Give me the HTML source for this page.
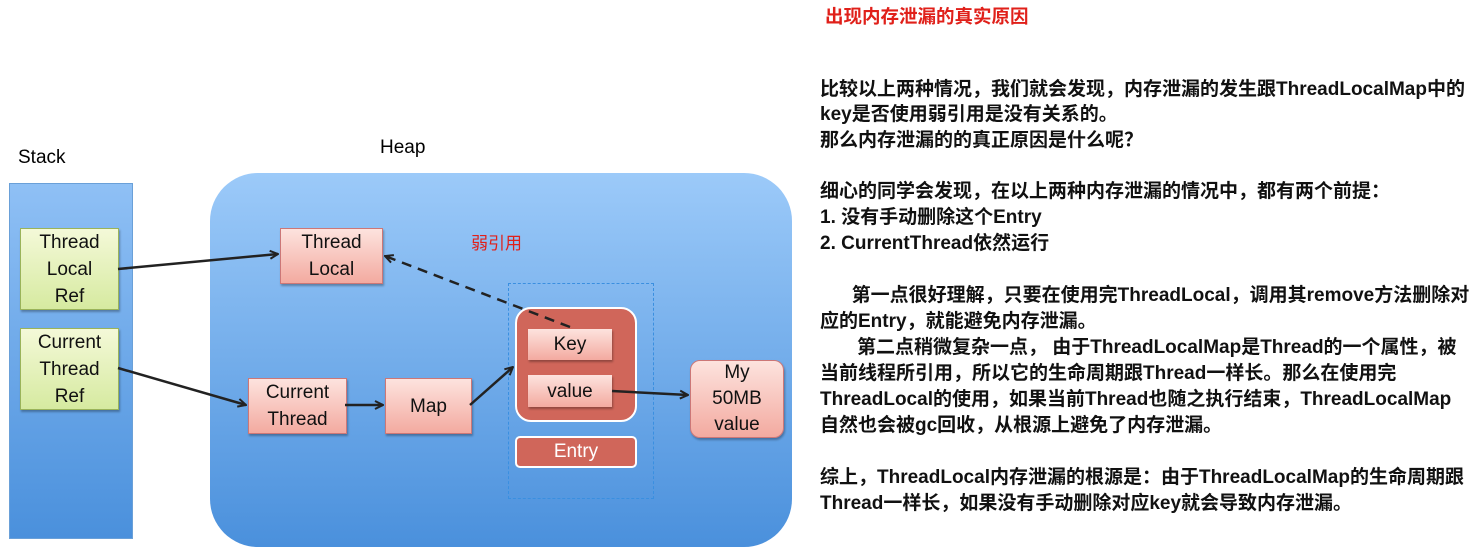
<!DOCTYPE html>
<html><head><meta charset="utf-8"><style>
body{margin:0;width:1480px;height:555px;background:#fff;position:relative;overflow:hidden;font-family:"Liberation Sans","Noto Sans CJK SC",sans-serif}
.a{position:absolute}
.g{position:absolute;background:linear-gradient(#f4f9d8,#d6eaa0);border:1px solid #9ab35a;box-shadow:1px 2px 2px rgba(0,0,0,.3);text-align:center;font-size:19px;line-height:27px;color:#111;display:flex;align-items:center;justify-content:center}
.p{position:absolute;background:linear-gradient(#fde3de,#f3aaa0);border:1px solid #c77;box-shadow:1px 2px 2px rgba(0,0,0,.3);text-align:center;font-size:19px;line-height:27px;color:#111;display:flex;align-items:center;justify-content:center}
.t{position:absolute;left:820px;font-size:19px;font-weight:bold;color:#111;white-space:nowrap;font-family:"Liberation Sans","Noto Sans CJK SC",sans-serif}
</style></head><body>
<div class="a" style="left:825px;top:3px;font-size:18.5px;font-weight:bold;color:#e0201a">出现内存泄漏的真实原因</div>
<div class="t" style="top:74px">比较以上两种情况，我们就会发现，内存泄漏的发生跟ThreadLocalMap中的</div>
<div class="t" style="top:99px">key是否使用弱引用是没有关系的。</div>
<div class="t" style="top:125px">那么内存泄漏的的真正原因是什么呢？</div>
<div class="t" style="top:176px">细心的同学会发现，在以上两种内存泄漏的情况中，都有两个前提：</div>
<div class="t" style="top:202px">1. 没有手动删除这个Entry</div>
<div class="t" style="top:228px">2. CurrentThread依然运行</div>
<div class="t" style="top:280px">&nbsp;&nbsp;&nbsp;&nbsp;&nbsp;&nbsp;第一点很好理解，只要在使用完ThreadLocal，调用其remove方法删除对</div>
<div class="t" style="top:306px">应的Entry，就能避免内存泄漏。</div>
<div class="t" style="top:332px">&nbsp;&nbsp;&nbsp;&nbsp;&nbsp;&nbsp;&nbsp;第二点稍微复杂一点， 由于ThreadLocalMap是Thread的一个属性，被</div>
<div class="t" style="top:358px">当前线程所引用，所以它的生命周期跟Thread一样长。那么在使用完</div>
<div class="t" style="top:384px">ThreadLocal的使用，如果当前Thread也随之执行结束，ThreadLocalMap</div>
<div class="t" style="top:410px">自然也会被gc回收，从根源上避免了内存泄漏。</div>
<div class="t" style="top:462px">综上，ThreadLocal内存泄漏的根源是：由于ThreadLocalMap的生命周期跟</div>
<div class="t" style="top:488px">Thread一样长，如果没有手动删除对应key就会导致内存泄漏。</div>

<div class="a" style="left:18px;top:147px;font-size:19px">Stack</div>
<div class="a" style="left:380px;top:137px;font-size:19px">Heap</div>
<div class="a" style="left:9px;top:183px;width:122px;height:354px;background:linear-gradient(#8fc0f5,#4a90dc);border:1px solid #6aa0d8"></div>
<div class="a" style="left:210px;top:173px;width:582px;height:374px;border-radius:48px;background:linear-gradient(#9ccaf9,#4a90dc)"></div>

<div class="g" style="left:20px;top:228px;width:97px;height:80px">Thread<br>Local<br>Ref</div>
<div class="g" style="left:20px;top:328px;width:97px;height:80px">Current<br>Thread<br>Ref</div>
<div class="p" style="left:280px;top:228px;width:101px;height:54px">Thread<br>Local</div>
<div class="p" style="left:248px;top:378px;width:97px;height:54px">Current<br>Thread</div>
<div class="p" style="left:385px;top:378px;width:85px;height:54px">Map</div>
<div class="p" style="left:690px;top:360px;width:92px;height:76px;border-radius:10px;line-height:26px">My<br>50MB<br>value</div>
<div class="a" style="left:471px;top:229px;font-size:17px;color:#e0201a">弱引用</div>

<div class="a" style="left:508px;top:283px;width:144px;height:214px;border:1px dashed #3a8fe0"></div>
<div class="a" style="left:515px;top:307px;width:118px;height:111px;background:#d0665a;border:2px solid #fff;border-radius:16px"></div>
<div class="p" style="left:528px;top:329px;width:84px;height:31px;border:none">Key</div>
<div class="p" style="left:528px;top:375px;width:84px;height:32px;border:none">value</div>
<div class="a" style="left:515px;top:436px;width:118px;height:28px;background:#d0665a;border:2px solid #fff;border-radius:5px;color:#fff;font-size:19px;text-align:center;line-height:28px">Entry</div>

<svg class="a" style="left:0;top:0" width="800" height="555">
<defs><marker id="m" markerWidth="10" markerHeight="10" refX="9" refY="5" orient="auto" markerUnits="userSpaceOnUse"><path d="M1,1 L9,5 L1,9" fill="none" stroke="#222" stroke-width="2"/></marker></defs>
<g stroke="#222" stroke-width="2.5" fill="none">
<line x1="118" y1="269" x2="278" y2="254" marker-end="url(#m)"/>
<line x1="118" y1="368" x2="246" y2="405" marker-end="url(#m)"/>
<line x1="345" y1="405" x2="383" y2="405" marker-end="url(#m)"/>
<line x1="470" y1="405" x2="513" y2="367" marker-end="url(#m)"/>
<line x1="612" y1="391" x2="688" y2="395" marker-end="url(#m)"/>
<line x1="570" y1="327" x2="385" y2="256" stroke-dasharray="10,7" marker-end="url(#m)"/>
</g></svg>
</body></html>
